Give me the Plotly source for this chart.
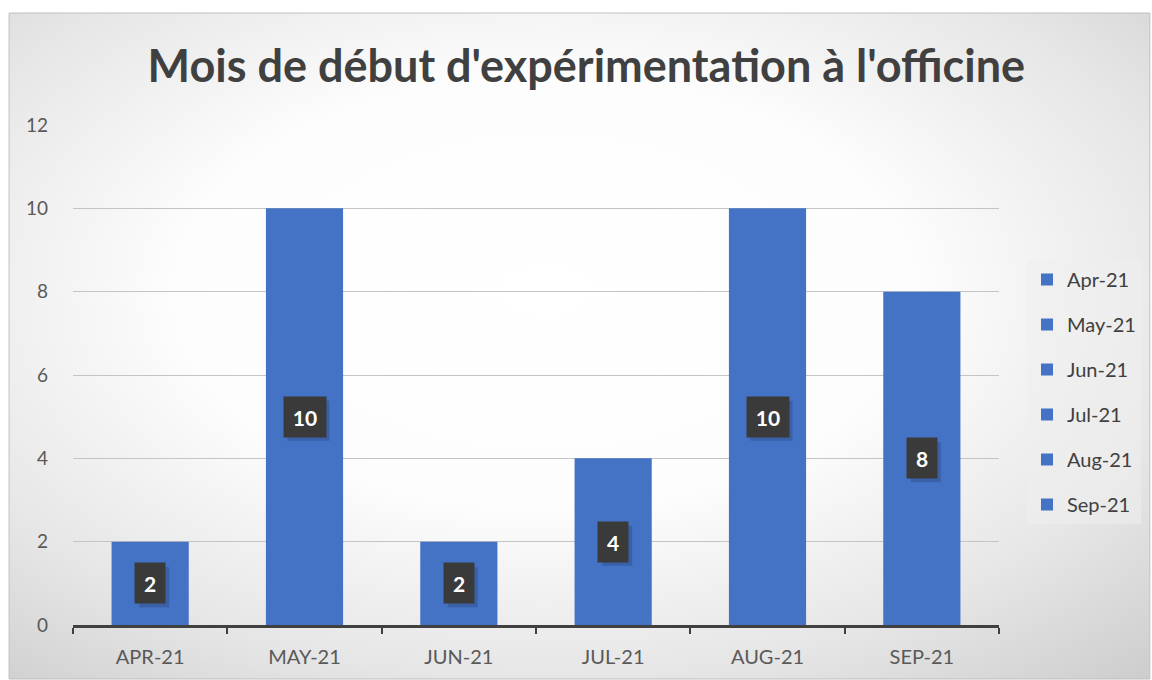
import base64
import plotly.graph_objects as go

# ---- data ----
months = ["Apr-21", "May-21", "Jun-21", "Jul-21", "Aug-21", "Sep-21"]
counts = [2, 10, 2, 4, 10, 8]
y_ticks = [0, 2, 4, 6, 8, 10, 12]
title_text = "Mois de début d'expérimentation à l'officine"

BLUE = "#4472C4"
FONT = "Lato, 'Open Sans', sans-serif"

W, H = 1152, 680
ML, MR, MT, MB = 73, 152, 125, 55
PW, PH = W - ML - MR, H - MT - MB
Y_MAX = 12


def px_to_paper_x(px):
    return (px - ML) / PW


def px_to_paper_y(py):
    return (H - MB - py) / PH


fig = go.Figure()
for m, c in zip(months, counts):
    fig.add_trace(go.Bar(
        x=[m], y=[c], name=m, legendgroup=m,
        marker=dict(color=BLUE, line=dict(width=0)),
        width=0.5, hoverinfo="x+y",
    ))

# data labels with a soft shadow (shadow drawn as a shape behind)
annotations = []
shapes = []
ux = len(months) / PW      # category units per pixel
uy = Y_MAX / PH            # y units per pixel
for i, (m, c) in enumerate(zip(months, counts)):
    txt = str(c)
    w = 18 if len(txt) == 1 else 30
    box_w = w + 12
    box_h = 40
    sx, sy = 4, 4
    shapes.append(dict(
        type="rect", xref="x", yref="y",
        x0=i - box_w / 2 * ux + sx * ux, x1=i + box_w / 2 * ux + sx * ux,
        y0=c / 2 - box_h / 2 * uy - sy * uy, y1=c / 2 + box_h / 2 * uy - sy * uy,
        line=dict(width=0), fillcolor="rgba(20,30,60,0.2)", layer="above",
    ))
    annotations.append(dict(
        x=m, y=c / 2, xref="x", yref="y", text="<b>" + txt + "</b>", showarrow=False,
        font=dict(family=FONT, size=21, color="white"),
        bgcolor="#3a3a3a", width=w, height=28, borderpad=6,
    ))

# gradient background image (radial like the original)
bw, bh = 1143, 667
svg = (
    f'<svg xmlns="http://www.w3.org/2000/svg" width="{bw}" height="{bh}">'
    '<defs><radialGradient id="g" cx="0.47" cy="0.42" r="0.8">'
    '<stop offset="0" stop-color="#ffffff"/>'
    '<stop offset="0.4" stop-color="#fdfdfd"/>'
    '<stop offset="0.72" stop-color="#e6e6e6"/>'
    '<stop offset="1" stop-color="#cbcbcb"/>'
    '</radialGradient></defs>'
    f'<rect width="{bw}" height="{bh}" fill="url(#g)"/></svg>'
)
src = "data:image/svg+xml;base64," + base64.b64encode(svg.encode()).decode()

x0, x1 = px_to_paper_x(9), px_to_paper_x(1151)
y0, y1 = px_to_paper_y(679), px_to_paper_y(13)

shapes.insert(0, dict(
    type="rect", xref="paper", yref="paper",
    x0=x0, x1=x1, y0=y0, y1=y1,
    line=dict(color="#bfbfbf", width=1), fillcolor="rgba(0,0,0,0)",
    layer="below",
))

fig.update_layout(
    width=W, height=H,
    margin=dict(l=ML, r=MR, t=MT, b=MB),
    paper_bgcolor="white",
    plot_bgcolor="rgba(0,0,0,0)",
    barmode="overlay",
    font=dict(family=FONT, color="#595959"),
    title=dict(
        text="<b>" + title_text + "</b>",
        font=dict(family=FONT, size=45, color="#404040"),
        x=0.509, xanchor="center", y=0.902, yanchor="middle",
    ),
    images=[dict(
        source=src, xref="paper", yref="paper",
        x=x0, y=y1, sizex=x1 - x0, sizey=y1 - y0,
        xanchor="left", yanchor="top", sizing="stretch", layer="below",
    )],
    shapes=shapes,
    legend=dict(
        x=px_to_paper_x(1027), y=px_to_paper_y(260),
        xanchor="left", yanchor="top",
        font=dict(family=FONT, size=20, color="#404040"),
        bgcolor="rgba(238,238,238,0.55)",
        traceorder="grouped", tracegroupgap=16,
        itemwidth=30,
    ),
    annotations=annotations,
)

fig.update_xaxes(
    type="category",
    categoryorder="array", categoryarray=months,
    tickvals=months, ticktext=[m.upper() for m in months],
    showline=True, linecolor="#404040", linewidth=2.5,
    ticks="outside", tickson="boundaries", ticklen=6, tickwidth=2, tickcolor="#404040",
    tickfont=dict(family=FONT, size=20, color="#595959"),
    ticklabelstandoff=12,
    showgrid=False, zeroline=False,
)
fig.update_yaxes(
    range=[0, Y_MAX], tickvals=y_ticks,
    showgrid=True, gridcolor="#c4c4c4", gridwidth=1.2,
    zeroline=False, showline=False, ticks="",
    tickfont=dict(family=FONT, size=19, color="#595959"),
    ticklabelstandoff=24,
)

fig.write_html(
    "out.html",
    config={"displayModeBar": False},
    post_script="document.body.style.margin='0';document.body.style.overflow='hidden';",
)
